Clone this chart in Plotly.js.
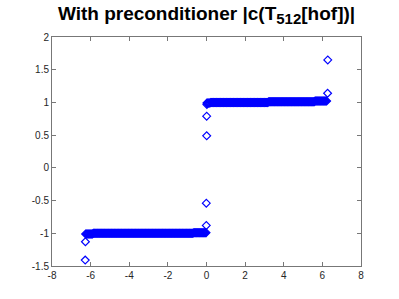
<!DOCTYPE html>
<html>
<head>
<meta charset="utf-8">
<script src="https://cdn.plot.ly/plotly-3.0.1.min.js"></script>
<style>html,body{margin:0;padding:0;background:#fff;}#chart{width:399px;height:299px;}</style>
</head>
<body>
<div id="chart"></div>
<script>
// Upper band (values near +1)
const upperX = [
0.02,0.06,0.10,0.14,0.18,0.22,0.26,0.30,0.34,0.38,
0.42,0.46,0.50,0.54,0.58,0.62,0.66,0.70,0.74,0.78,
0.82,0.86,0.90,0.94,0.98,1.02,1.06,1.10,1.14,1.18,
1.22,1.26,1.30,1.34,1.38,1.42,1.46,1.50,1.54,1.58,
1.62,1.66,1.70,1.74,1.78,1.82,1.86,1.90,1.94,1.98,
2.02,2.06,2.10,2.14,2.18,2.22,2.26,2.30,2.34,2.38,
2.42,2.46,2.50,2.54,2.58,2.62,2.66,2.70,2.74,2.78,
2.82,2.86,2.90,2.94,2.98,3.02,3.06,3.10,3.14,3.18,
3.22,3.26,3.30,3.34,3.38,3.42,3.46,3.50,3.54,3.58,
3.62,3.66,3.70,3.74,3.78,3.82,3.86,3.90,3.94,3.98,
4.02,4.06,4.10,4.14,4.18,4.22,4.26,4.30,4.34,4.38,
4.42,4.46,4.50,4.54,4.58,4.62,4.66,4.70,4.74,4.78,
4.82,4.86,4.90,4.94,4.98,5.02,5.06,5.10,5.14,5.18,
5.22,5.26,5.30,5.34,5.38,5.42,5.46,5.50,5.54,5.58,
5.62,5.66,5.70,5.74,5.78,5.82,5.86,5.90,5.94,5.98,
6.02,6.06,6.10,6.14,6.18,6.22];
const upperY = [
0.99,0.99,0.99,0.99,0.99,1.00,1.00,1.00,1.00,1.00,
1.00,1.00,1.00,1.00,1.00,1.00,1.00,1.00,1.00,1.00,
1.00,1.00,1.00,1.00,1.00,1.00,1.00,1.00,1.00,1.00,
1.00,1.00,1.00,1.00,1.00,1.00,1.00,1.00,1.00,1.00,
1.00,1.00,1.00,1.00,1.00,1.00,1.00,1.00,1.00,1.00,
1.00,1.00,1.00,1.00,1.00,1.00,1.00,1.00,1.00,1.00,
1.00,1.00,1.00,1.00,1.00,1.00,1.00,1.00,1.00,1.00,
1.00,1.00,1.00,1.00,1.00,1.00,1.00,1.00,1.00,1.00,
1.01,1.01,1.01,1.01,1.01,1.01,1.01,1.01,1.01,1.01,
1.01,1.01,1.01,1.01,1.01,1.01,1.01,1.01,1.01,1.01,
1.01,1.01,1.01,1.01,1.01,1.01,1.01,1.01,1.01,1.01,
1.01,1.01,1.01,1.01,1.01,1.01,1.01,1.01,1.01,1.01,
1.01,1.01,1.01,1.01,1.01,1.01,1.01,1.01,1.01,1.01,
1.01,1.01,1.01,1.01,1.01,1.01,1.01,1.01,1.01,1.01,
1.02,1.02,1.02,1.02,1.02,1.02,1.02,1.02,1.02,1.02,
1.02,1.02,1.02,1.02,1.02,1.02];
// Lower band (values near -1)
const lowerX = [
-6.26,-6.22,-6.18,-6.14,-6.10,-6.06,-6.02,-5.98,-5.94,-5.90,
-5.86,-5.82,-5.78,-5.74,-5.70,-5.66,-5.62,-5.58,-5.54,-5.50,
-5.46,-5.42,-5.38,-5.34,-5.30,-5.26,-5.22,-5.18,-5.14,-5.10,
-5.06,-5.02,-4.98,-4.94,-4.90,-4.86,-4.82,-4.78,-4.74,-4.70,
-4.66,-4.62,-4.58,-4.54,-4.50,-4.46,-4.42,-4.38,-4.34,-4.30,
-4.26,-4.22,-4.18,-4.14,-4.10,-4.06,-4.02,-3.98,-3.94,-3.90,
-3.86,-3.82,-3.78,-3.74,-3.70,-3.66,-3.62,-3.58,-3.54,-3.50,
-3.46,-3.42,-3.38,-3.34,-3.30,-3.26,-3.22,-3.18,-3.14,-3.10,
-3.06,-3.02,-2.98,-2.94,-2.90,-2.86,-2.82,-2.78,-2.74,-2.70,
-2.66,-2.62,-2.58,-2.54,-2.50,-2.46,-2.42,-2.38,-2.34,-2.30,
-2.26,-2.22,-2.18,-2.14,-2.10,-2.06,-2.02,-1.98,-1.94,-1.90,
-1.86,-1.82,-1.78,-1.74,-1.70,-1.66,-1.62,-1.58,-1.54,-1.50,
-1.46,-1.42,-1.38,-1.34,-1.30,-1.26,-1.22,-1.18,-1.14,-1.10,
-1.06,-1.02,-0.98,-0.94,-0.90,-0.86,-0.82,-0.78,-0.74,-0.70,
-0.66,-0.62,-0.58,-0.54,-0.50,-0.46,-0.42,-0.38,-0.34,-0.30,
-0.26,-0.22,-0.18,-0.14,-0.10,-0.06,-0.02];
const lowerY = [
-1.01,-1.01,-1.01,-1.01,-1.01,-1.01,-1.01,-1.01,-1.01,-1.01,
-1.00,-1.00,-1.00,-1.00,-1.00,-1.00,-1.00,-1.00,-1.00,-1.00,
-1.00,-1.00,-1.00,-1.00,-1.00,-1.00,-1.00,-1.00,-1.00,-1.00,
-1.00,-1.00,-1.00,-1.00,-1.00,-1.00,-1.00,-1.00,-1.00,-1.00,
-1.00,-1.00,-1.00,-1.00,-1.00,-1.00,-1.00,-1.00,-1.00,-1.00,
-1.00,-1.00,-1.00,-1.00,-1.00,-1.00,-1.00,-1.00,-1.00,-1.00,
-1.00,-1.00,-1.00,-1.00,-1.00,-1.00,-1.00,-1.00,-1.00,-1.00,
-1.00,-1.00,-1.00,-1.00,-1.00,-1.00,-1.00,-1.00,-1.00,-1.00,
-1.00,-1.00,-1.00,-1.00,-1.00,-1.00,-1.00,-1.00,-1.00,-1.00,
-1.00,-1.00,-1.00,-1.00,-1.00,-1.00,-1.00,-1.00,-1.00,-1.00,
-1.00,-1.00,-1.00,-1.00,-1.00,-1.00,-1.00,-1.00,-1.00,-1.00,
-1.00,-1.00,-1.00,-1.00,-1.00,-1.00,-1.00,-1.00,-1.00,-1.00,
-1.00,-1.00,-1.00,-1.00,-1.00,-1.00,-1.00,-1.00,-1.00,-1.00,
-1.00,-1.00,-1.00,-1.00,-1.00,-1.00,-1.00,-1.00,-1.00,-1.00,
-0.99,-0.99,-0.99,-0.99,-0.99,-0.99,-0.99,-0.99,-0.99,-0.99,
-0.99,-0.99,-0.99,-0.99,-0.99,-0.99,-0.99];
// Isolated outlying values
const outX = [0.02,0.01,0.01,6.27,6.28,-0.01,-0.01,-6.27,-6.28];
const outY = [0.97,0.79,0.49,1.14,1.65,-0.54,-0.88,-1.13,-1.41];
// Axis ticks
const xTicks = [-8,-6,-4,-2,0,2,4,6,8];
const yTicks = [-1.5,-1,-0.5,0,0.5,1,1.5,2];

const marker = {symbol:'diamond-open', size:6, color:'#0000ff', line:{width:1.2, color:'#0000ff'}};
const traces = [
  {x: upperX, y: upperY, mode:'markers', type:'scatter', marker: marker, hoverinfo:'none'},
  {x: lowerX, y: lowerY, mode:'markers', type:'scatter', marker: marker, hoverinfo:'none'},
  {x: outX, y: outY, mode:'markers', type:'scatter', marker: marker, hoverinfo:'none'}
];
const axisCommon = {
  showgrid:false, zeroline:false, showline:true, mirror:'ticks', linecolor:'#777', linewidth:1,
  ticks:'inside', ticklen:4, tickcolor:'#777', tickwidth:1,
  tickfont:{family:'Liberation Sans, Arial, sans-serif', size:10, color:'#262626'}
};
const layout = {
  width:399, height:299,
  margin:{l:52, r:38, t:37, b:33},
  paper_bgcolor:'#fff', plot_bgcolor:'#fff',
  showlegend:false,
  title:{text:'With preconditioner |c(T<sub><span style="font-size:15px">512</span></sub>[hof])|', x:0.5, xref:'paper', xanchor:'center', y:0.955, yref:'container', yanchor:'middle',
    font:{family:'Liberation Sans, Arial, sans-serif', size:19, color:'#000', weight:'bold'}},
  xaxis: Object.assign({}, axisCommon, {range:[-8,8], tickvals:xTicks, ticktext:xTicks.map(String)}),
  yaxis: Object.assign({}, axisCommon, {range:[-1.5,2], tickvals:yTicks, ticktext:yTicks.map(String)})
};
Plotly.newPlot('chart', traces, layout, {staticPlot:true, displayModeBar:false});
</script>
</body>
</html>
